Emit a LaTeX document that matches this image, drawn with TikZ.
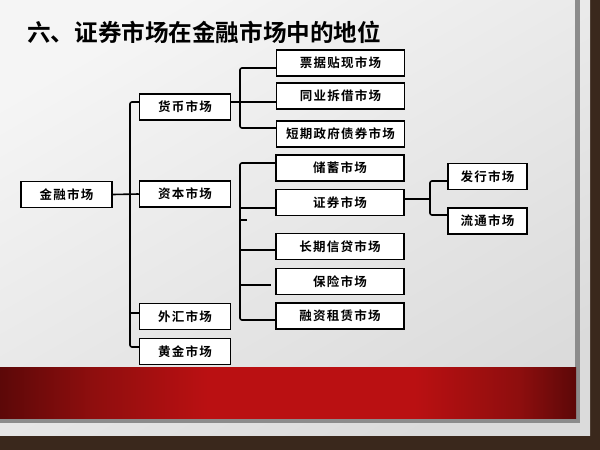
\documentclass[tikz,border=0pt]{standalone}
\usepackage{fontspec}
\newfontfamily\cjk{Noto Sans CJK SC}[BoldFont={Noto Sans CJK SC Bold}]
\newfontfamily\cjksp{Noto Sans CJK SC}[BoldFont={Noto Sans CJK SC Bold}, LetterSpace=10]
\usetikzlibrary{calc}
\definecolor{brownbg}{HTML}{3A281C}
\definecolor{shadowgray}{HTML}{8C8C8C}
\definecolor{rdark}{HTML}{5C0808}
\definecolor{rmid}{HTML}{8E0E0E}
\definecolor{rbright}{HTML}{BA1012}
\pgfdeclarehorizontalshading{redbar}{100bp}{color(0bp)=(rdark); color(25bp)=(rdark); color(33bp)=(rmid); color(43bp)=(rbright); color(61bp)=(rbright); color(70bp)=(rmid); color(75bp)=(rdark); color(100bp)=(rdark)}
\tikzset{
  mbox/.style={draw=black, line width=1.5pt, fill=white, inner sep=0pt,
    font=\cjksp\bfseries\fontsize{12.5}{12.5}\selectfont, minimum height=26pt},
  lvl1/.style={mbox, minimum width=91pt},
  lvl2/.style={mbox, minimum width=128pt},
  lvl3/.style={mbox, minimum width=79pt},
  conn/.style={draw=black, line width=1.6pt, rounded corners=2pt},
}
\begin{document}
\begin{tikzpicture}[x=1pt,y=-1pt]
\useasboundingbox (0,0) rectangle (600,450);
% background
\fill[brownbg] (0,0) rectangle (600,450);
\shade[top color=white!96!black, bottom color=white!86!black, shading angle=30] (0,0) rectangle (590,435);
\fill[shadowgray] (575,0) rectangle (580,423);
\fill[shadowgray] (0,418) rectangle (580,423);
\shade[shading=redbar] (0,367) rectangle (576,418);
% title
\node[anchor=west, inner sep=0pt, font=\cjk\bfseries\fontsize{23.6}{23.6}\selectfont] (title) at (27,32) {六、证券市场在金融市场中的地位};
% level 0/1
\node[lvl1] (jr) at (66.5,194.5) {金融市场};
\node[lvl1] (hb) at (185,107) {货币市场};
\node[lvl1] (zb) at (185,194) {资本市场};
\node[lvl1] (wh) at (185,316.5) {外汇市场};
\node[lvl1] (hj) at (185,351.5) {黄金市场};
% level 2
\node[lvl2] (pj) at (340.5,63) {票据贴现市场};
\node[lvl2] (ty) at (340.5,96) {同业拆借市场};
\node[lvl2] (dq) at (340.5,134) {短期政府债券市场};
\node[lvl2] (cx) at (340,168) {储蓄市场};
\node[lvl2] (zq) at (340,202.5) {证券市场};
\node[lvl2] (cq) at (340,246.5) {长期信贷市场};
\node[lvl2] (bx) at (340,281.5) {保险市场};
\node[lvl2] (rz) at (340,316) {融资租赁市场};
% level 3
\node[lvl3] (fx) at (487.5,176.5) {发行市场};
\node[lvl3] (lt) at (487.5,221) {流通市场};
% junction coordinates
\coordinate (t1) at (130,102);
\coordinate (t2) at (130,347);
\coordinate (t3) at (130,313);
\coordinate (m1) at (240,68);
\coordinate (m2) at (240,128);
\coordinate (c1) at (240,163);
\coordinate (c2) at (240,320);
\coordinate (s1) at (430,181);
\coordinate (s2) at (430,215);
\coordinate (stubA) at (247,220);
\coordinate (stubB) at (271,285);
% connectors level 1
\draw[conn] (jr.east) -- (zb.west);
\draw[conn] (hb.west |- t1) -- (t1) -- (t2) -- (hj.west |- t2);
\draw[conn] (t3) -- (wh.west |- t3);
% money market
\draw[conn] (hb.east |- 0,102) -- (ty.west |- 0,102);
\draw[conn] (pj.west |- m1) -- (m1) -- (m2) -- (dq.west |- m2);
% capital market
\draw[conn] (cx.west |- c1) -- (c1) -- (c2) -- (rz.west |- c2);
\draw[conn] (c1 |- 0,208) -- (zq.west |- 0,208);
\draw[conn] (c1 |- stubA) -- (stubA);
\draw[conn] (c1 |- 0,250) -- (cq.west |- 0,250);
\draw[conn] (c1 |- stubB) -- (stubB);
% securities market
\draw[conn] (zq.east |- 0,199) -- (s1 |- 0,199);
\draw[conn] (fx.west |- s1) -- (s1) -- (s2) -- (lt.west |- s2);
\end{tikzpicture}
\end{document}
